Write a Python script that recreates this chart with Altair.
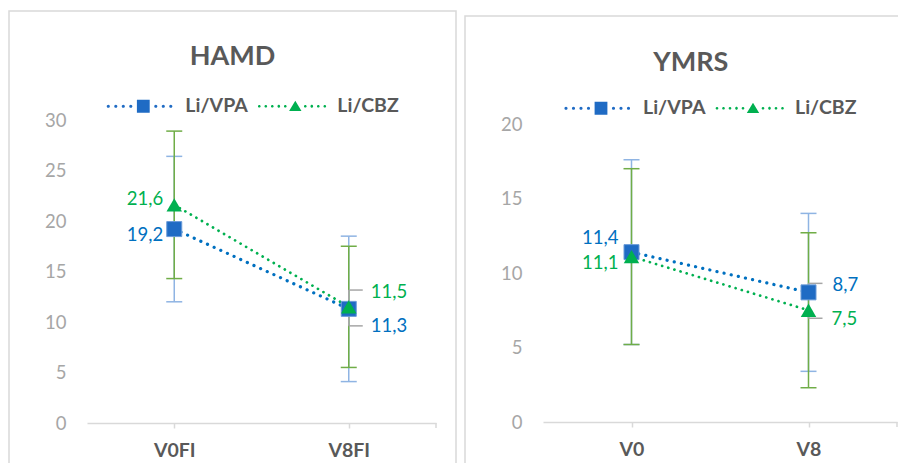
import altair as alt
import pandas as pd

# ---------------- data ----------------
series = ["Li/VPA", "Li/CBZ"]

hamd_categories = ["V0FI", "V8FI"]
hamd_vpa_mean = [19.2, 11.3]
hamd_vpa_sd = [7.2, 7.2]
hamd_cbz_mean = [21.6, 11.5]
hamd_cbz_sd = [7.3, 6.0]
hamd_ticks = [0, 5, 10, 15, 20, 25, 30]

ymrs_categories = ["V0", "V8"]
ymrs_vpa_mean = [11.4, 8.7]
ymrs_vpa_sd = [6.2, 5.3]
ymrs_cbz_mean = [11.1, 7.5]
ymrs_cbz_sd = [5.9, 5.2]
ymrs_ticks = [0, 5, 10, 15, 20]

# ---------------- styles ----------------
FONT = "Lato"
BLUE = "#0070C0"
BLUE_MARK = "#1F6BC4"
BLUE_MARK_EDGE = "#6A9BD8"
GREEN = "#00B050"
BLUE_BAR = "#8FB4E3"
GREEN_BAR = "#70AD47"
FRAME = "#D9D9D9"
TEXT = "#595959"
AXIS_TEXT = "#A6A6A6"
LEADER = "#A6A6A6"


def make_df(categories, vpa_mean, vpa_sd, cbz_mean, cbz_sd):
    rows = []
    for name, means, sds in ((series[0], vpa_mean, vpa_sd), (series[1], cbz_mean, cbz_sd)):
        for c, m, s in zip(categories, means, sds):
            rows.append({"series": name, "cat": c, "mean": m, "sd": s})
    return pd.DataFrame(rows)


# legend glyphs (dotted line + marker) as custom symbol paths, unit box = 37 px
U = 37.0


def dot(cx, r):
    a, b, rr = (cx - r) / U, (cx + r) / U, r / U
    return f"M{a:.4f},0A{rr:.4f},{rr:.4f} 0 1,0 {b:.4f},0A{rr:.4f},{rr:.4f} 0 1,0 {a:.4f},0Z"


def glyph_vpa():
    p = "".join(dot(x, 1.6) for x in [-35, -27.5, -20, -12.5, 12.5, 20, 27.5])
    h = 6.4 / U
    return p + f"M{-h:.4f},{-h:.4f}H{h:.4f}V{h:.4f}H{-h:.4f}Z"


def glyph_cbz():
    p = "".join(dot(x, 1.35) for x in [-36, -29.5, -23, -16.5, -10, 10, 16.5, 23, 29.5])
    w, t, b = 6.2 / U, -5.6 / U, 4.8 / U
    return p + f"M0,{t:.4f}L{w:.4f},{b:.4f}L{-w:.4f},{b:.4f}Z"


def panel(df, categories, ticks, ymax, plot_w, plot_h, title, title_off, title_dx,
          frame_box, legend_xy, label_pos, leaders):
    x_axis = alt.Axis(title=None, labelAngle=0, grid=False, domainColor=FRAME, domainWidth=1.5,
                      tickColor=FRAME, tickWidth=1.5, tickSize=5, labelFont=FONT,
                      labelFontSize=19.5, labelFontWeight="bold", labelColor=TEXT, labelPadding=13)
    y_axis = alt.Axis(title=None, values=ticks, grid=False, domain=False, ticks=False, tickSize=0,
                      labelFont=FONT, labelFontSize=18.5, labelColor=AXIS_TEXT, labelPadding=21)
    x_scale = alt.Scale(type="point", padding=0.5)
    y_scale = alt.Scale(domain=[0, ymax], nice=False, zero=False)

    def X(field="cat"):
        return alt.X(f"{field}:N", sort=categories, scale=x_scale, axis=x_axis)

    def Y(field):
        return alt.Y(f"{field}:Q", scale=y_scale, axis=y_axis)

    def base(s=None, c=None):
        ch = alt.Chart(df).transform_calculate(
            lo="datum.mean - datum.sd",
            hi="datum.mean + datum.sd",
            label="replace(format(datum.mean, '.1f'), '.', ',')",
        )
        if s is not None:
            ch = ch.transform_filter(alt.datum.series == s)
        if c is not None:
            ch = ch.transform_filter(alt.datum.cat == c)
        return ch

    deco = pd.DataFrame({"f": [1]})
    fx1, fx2, fy1, fy2 = frame_box
    frame = alt.Chart(deco).mark_rect(
        filled=False, stroke=FRAME, strokeWidth=1.5
    ).encode(x=alt.value(fx1), x2=alt.value(fx2), y=alt.value(fy1), y2=alt.value(fy2))
    # closing tick at the right end of the category axis (Excel style)
    end_tick = alt.Chart(deco).mark_rule(color=FRAME, strokeWidth=1.5).encode(
        x=alt.value(plot_w), y=alt.value(plot_h), y2=alt.value(plot_h + 5))

    layers = [frame, end_tick]
    for s, col in ((series[0], BLUE_BAR), (series[1], GREEN_BAR)):
        layers.append(base(s).mark_rule(color=col, strokeWidth=1.5).encode(x=X(), y=Y("lo"), y2="hi:Q"))
        layers.append(
            base(s).transform_fold(["lo", "hi"], as_=["end", "v"]).mark_tick(
                color=col, size=16, thickness=1.5, opacity=1
            ).encode(x=X(), y=Y("v"))
        )

    for s, c, dy in leaders:
        layers.append(base(s, c).mark_rule(color=LEADER, strokeWidth=1.5, y2Offset=dy).encode(
            x=X(), y=Y("mean"), y2="mean:Q"))
        layers.append(base(s, c).mark_rule(color=LEADER, strokeWidth=1.5, yOffset=dy, x2Offset=14).encode(
            x=X(), x2="cat:N", y=Y("mean")))

    layers.append(base(series[0]).mark_line(color=BLUE, strokeWidth=3.2, strokeDash=[0.1, 7.2],
                                            strokeCap="round").encode(x=X(), y=Y("mean")))
    layers.append(base(series[1]).mark_line(color=GREEN, strokeWidth=2.7, strokeDash=[0.1, 6.3],
                                            strokeCap="round").encode(x=X(), y=Y("mean")))
    layers.append(base(series[0]).mark_point(shape="square", filled=True, size=225, opacity=1,
                                             fill=BLUE_MARK, stroke=BLUE_MARK_EDGE, strokeWidth=1
                                             ).encode(x=X(), y=Y("mean")))
    layers.append(base(series[1]).mark_point(shape="triangle-up", filled=True, size=240, opacity=1,
                                             fill=GREEN, strokeWidth=0).encode(x=X(), y=Y("mean")))

    for (s, c), (align, dx, dy) in label_pos.items():
        layers.append(base(s, c).mark_text(
            align=align, baseline="middle", dx=dx, dy=dy, font=FONT, fontSize=18.5,
            color=BLUE if s == series[0] else GREEN
        ).encode(x=X(), y=Y("mean"), text="label:N"))

    lx, ly = legend_xy
    leg = alt.Legend(title=None, orient="none", legendX=lx, legendY=ly, direction="horizontal",
                     labelFont=FONT, labelFontSize=19.5, labelFontWeight="bold", labelColor=TEXT,
                     symbolSize=U * U * 4, symbolStrokeWidth=0, symbolOpacity=1, labelOffset=5,
                     columnPadding=9, padding=0, labelLimit=300)
    legend_layer = base().transform_filter("false").mark_point(filled=True, opacity=1).encode(
        color=alt.Color("series:N", scale=alt.Scale(domain=series, range=[BLUE_MARK, GREEN]), legend=leg),
        shape=alt.Shape("series:N", scale=alt.Scale(domain=series, range=[glyph_vpa(), glyph_cbz()]),
                        legend=leg),
    )
    layers.append(legend_layer)

    return alt.layer(*layers).properties(
        width=plot_w, height=plot_h,
        title=alt.TitleParams(title, anchor="middle", frame="bounds", offset=title_off, dx=title_dx,
                              baseline="alphabetic", font=FONT, fontSize=27, fontWeight="bold",
                              color=TEXT),
    )


hamd_df = make_df(hamd_categories, hamd_vpa_mean, hamd_vpa_sd, hamd_cbz_mean, hamd_cbz_sd)
ymrs_df = make_df(ymrs_categories, ymrs_vpa_mean, ymrs_vpa_sd, ymrs_cbz_mean, ymrs_cbz_sd)

hamd_labels = {
    ("Li/VPA", "V0FI"): ("right", -11, 5.5),
    ("Li/CBZ", "V0FI"): ("right", -11, -5.5),
    ("Li/CBZ", "V8FI"): ("left", 22, -15.3),
    ("Li/VPA", "V8FI"): ("left", 22, 17.6),
}
ymrs_labels = {
    ("Li/VPA", "V0"): ("right", -13, -14.5),
    ("Li/CBZ", "V0"): ("right", -13, 6.5),
    ("Li/VPA", "V8"): ("left", 24, -7.7),
    ("Li/CBZ", "V8"): ("left", 23, 9),
}

left = panel(hamd_df, hamd_categories, hamd_ticks, 30, 349, 303, "HAMD", -81.25, 0,
             (-78, 369, -109, 350), (19.3, -51), hamd_labels,
             [("Li/VPA", "V8FI", 17), ("Li/CBZ", "V8FI", -16.8)])
right = panel(ymrs_df, ymrs_categories, ymrs_ticks, 20 * 302 / 298, 354, 302, "YMRS", -82.25, 5.5,
              (-78, 362.5, -104, 350), (21, -49), ymrs_labels,
              [("Li/VPA", "V8", -9), ("Li/CBZ", "V8", 8)])

# the right edge of the second frame sits at the very edge of the picture: trim the canvas there
chart = alt.hconcat(left, right, spacing=107, bounds="flush").resolve_scale(
    color="independent", shape="independent"
).resolve_legend(color="independent", shape="independent").properties(
    padding={"left": 0, "top": 2, "right": -9, "bottom": 0}
).configure_view(stroke=None)

chart.save("out.html", embed_options={"renderer": "svg", "actions": False})
